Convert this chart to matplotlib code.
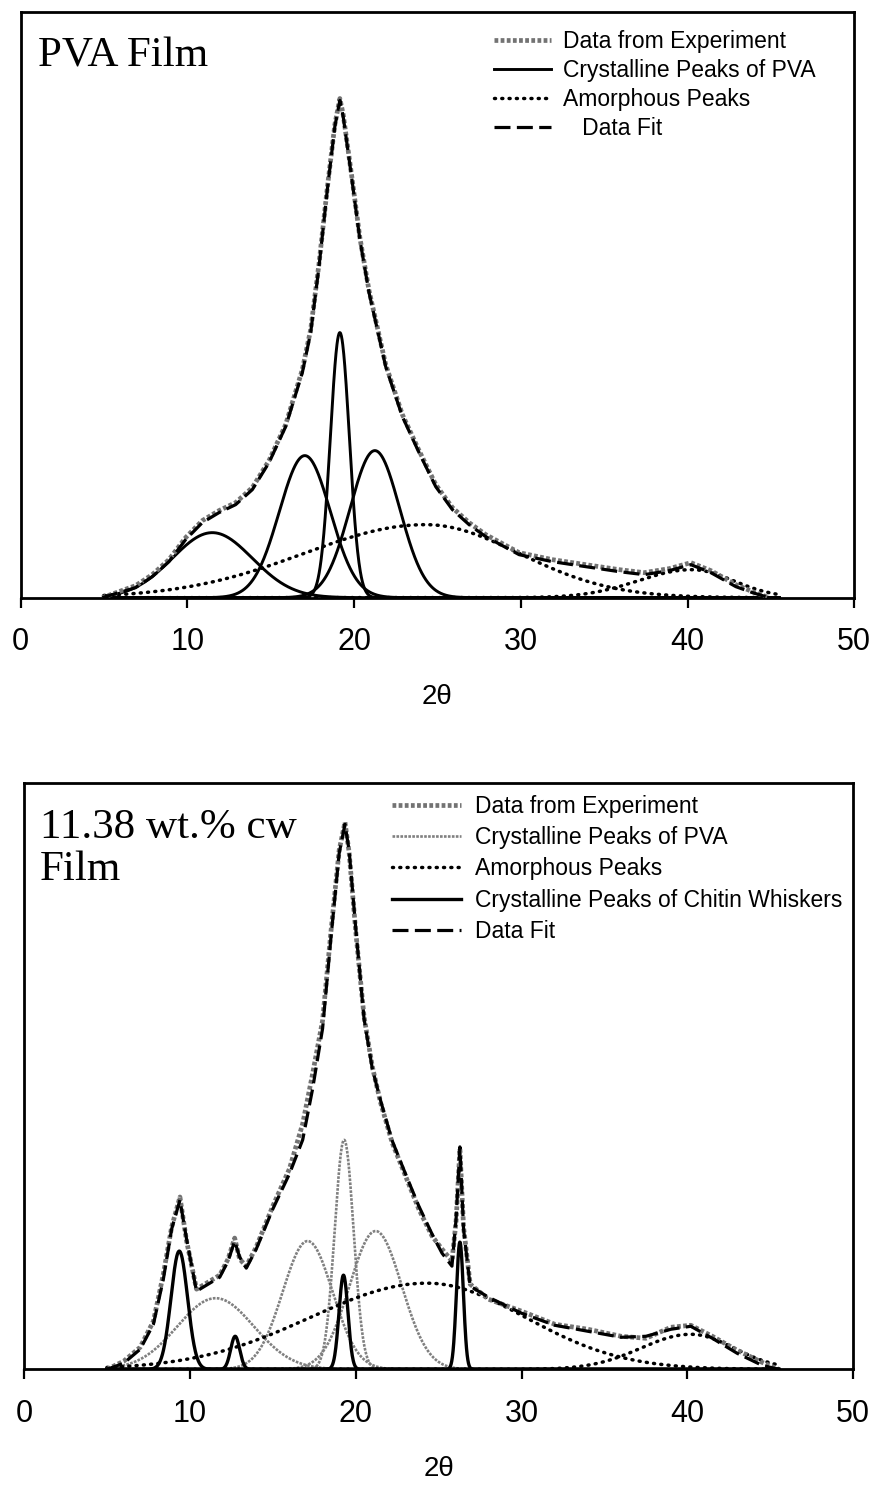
import matplotlib
matplotlib.use("agg")
import matplotlib.pyplot as plt
import numpy as np

plt.rcParams["font.family"] = ["Liberation Sans", "DejaVu Sans"]

# ---------------- PVA film (top panel) ----------------
pva_x = [4.9, 5.9, 6.9, 7.9, 8.9, 9.9, 10.9, 11.9, 12.9, 13.9,
         14.9, 15.9, 16.9, 17.4, 17.9, 18.4, 18.85, 19.15, 19.35, 19.85,
         20.35, 20.9, 21.9, 22.9, 23.9, 24.9, 25.9, 26.9, 27.9, 29.9,
         31.9, 33.9, 35.9, 37.4, 38.9, 40.2, 41.4, 42.9, 43.9, 44.9]
pva_fit = [0, 5, 10, 21, 36, 58, 75, 85, 93, 108,
           135, 171, 225, 265, 331, 408, 471, 497, 481, 421,
           358, 305, 231, 181, 145, 111, 88, 73, 61, 43,
           36, 31, 26, 23, 27, 33, 25, 11, 5, 0]
pva_exp = [0, 6, 12, 23, 38, 60, 77, 87, 95, 110,
           137, 173, 228, 268, 334, 410, 473, 499, 483, 423,
           360, 307, 233, 183, 147, 113, 90, 75, 63, 45,
           38, 33, 28, 25, 29, 35, 27, 13, 6, 0]
pva_cryst_center = [11.5, 17.05, 19.15, 21.25]
pva_cryst_height = [65, 142, 265, 147]
pva_cryst_width = [2.4, 1.53, 0.57, 1.49]
pva_amor_center = [24.3, 40.25]
pva_amor_height = [73, 28]
pva_amor_wleft = [7.3, 3.2]
pva_amor_wright = [5.6, 2.5]

# ---------------- 11.38 wt.% cw film (bottom panel) ----------------
cw_x = [5.0, 6.0, 7.0, 7.8, 8.4, 8.9, 9.4, 9.8, 10.4, 11.0,
        11.8, 12.3, 12.7, 13.0, 13.4, 14.0, 15.0, 16.0, 16.8, 17.4,
        18.0, 18.5, 19.0, 19.35, 19.6, 20.0, 20.5, 21.0, 21.5, 22.2,
        23.0, 23.8, 24.6, 25.2, 25.8, 26.05, 26.28, 26.5, 26.9, 28.0,
        30.0, 32.0, 34.0, 36.0, 37.5, 39.0, 40.2, 41.5, 43.0, 44.5,
        45.5]
cw_fit = [0, 6, 20, 45, 90, 140, 169, 130, 78, 84,
          92, 108, 128, 112, 101, 120, 160, 195, 229, 280,
          340, 430, 515, 544, 518, 440, 350, 300, 268, 228,
          195, 163, 135, 116, 103, 150, 222, 140, 83, 72,
          56, 44, 38, 32, 33, 40, 43, 31, 16, 4,
          0]
cw_exp = [0, 8, 22, 48, 95, 142, 172, 128, 80, 86,
          94, 110, 131, 110, 103, 122, 163, 200, 245, 295,
          348, 436, 518, 546, 516, 437, 352, 302, 266, 226,
          193, 160, 133, 120, 108, 148, 220, 142, 85, 70,
          58, 45, 40, 33, 31, 42, 44, 33, 19, 7,
          0]
cw_pva_center = [11.55, 17.1, 19.3, 21.2]
cw_pva_height = [71, 128, 229, 138]
cw_pva_width = [2.3, 1.5, 0.57, 1.57]
cw_amor_center = [24.3, 40.2]
cw_amor_height = [86, 35]
cw_amor_wleft = [7.0, 3.0]
cw_amor_wright = [5.9, 2.6]
cw_chitin_center = [9.36, 12.73, 19.26, 26.28]
cw_chitin_height = [118, 33, 94, 127]
cw_chitin_width = [0.5, 0.27, 0.27, 0.21]

grid = np.linspace(5, 45.5, 2000)


def peak(x, c, h, wl, wr=None):
    if wr is None:
        wr = wl
    w = np.where(x < c, wl, wr)
    return h * np.exp(-0.5 * ((x - c) / w) ** 2)


def style_axes(ax):
    ax.set_xlim(0, 50)
    ax.set_ylim(0, 585)
    ax.set_xticks([0, 10, 20, 30, 40, 50])
    ax.set_yticks([])
    ax.tick_params(axis="x", direction="out", length=7, width=1.6,
                   labelsize=22, pad=14)
    for s in ax.spines.values():
        s.set_linewidth(2.0)
    ax.set_xlabel("2θ", fontsize=20)
    ax.xaxis.set_label_coords(0.5, -99 / 585)
    ax.xaxis.label.set_va("center")


fig = plt.figure(figsize=(8.77, 14.86), dpi=100)

exp_kw = dict(color="0.45", lw=3.4, ls=(0, (0.8, 0.5)), zorder=3)
fit_kw = dict(color="black", lw=2.3, ls=(0, (5, 2)), zorder=4)
dot_kw = dict(color="black", lw=2.5, ls=(0, (0.3, 1.8)),
              dash_capstyle="round", zorder=2)

# top panel
ax1 = fig.add_axes([0.0234, 0.5978, 0.9507, 0.3938])
ax1.plot(pva_x, pva_exp, label="Data from Experiment", **exp_kw)
for i, (c, h, w) in enumerate(zip(pva_cryst_center, pva_cryst_height, pva_cryst_width)):
    ax1.plot(grid, peak(grid, c, h, w), color="black", lw=2.1, zorder=2,
             label="Crystalline Peaks of PVA" if i == 0 else None)
for i, (c, h, wl, wr) in enumerate(zip(pva_amor_center, pva_amor_height,
                                       pva_amor_wleft, pva_amor_wright)):
    ax1.plot(grid, peak(grid, c, h, wl, wr),
             label="Amorphous Peaks" if i == 0 else None, **dot_kw)
ax1.plot(pva_x, pva_fit, label="   Data Fit", **fit_kw)
style_axes(ax1)
ax1.text(0.021, 0.908, "PVA Film", transform=ax1.transAxes,
         fontsize=31, family="Liberation Serif", va="baseline")
ax1.legend(loc="upper left", bbox_to_anchor=(0.568, 0.97), frameon=False,
           fontsize=16.5, handlelength=2.5, handletextpad=0.5,
           labelspacing=0.26, borderpad=0, borderaxespad=0)

# bottom panel
ax2 = fig.add_axes([0.0274, 0.0785, 0.9456, 0.3945])
ax2.plot(cw_x, cw_exp, label="Data from Experiment", **exp_kw)
for i, (c, h, w) in enumerate(zip(cw_pva_center, cw_pva_height, cw_pva_width)):
    ax2.plot(grid, peak(grid, c, h, w), color="0.5", lw=1.9,
             ls=(0, (1.0, 0.5)), zorder=2,
             label="Crystalline Peaks of PVA" if i == 0 else None)
for i, (c, h, wl, wr) in enumerate(zip(cw_amor_center, cw_amor_height,
                                       cw_amor_wleft, cw_amor_wright)):
    ax2.plot(grid, peak(grid, c, h, wl, wr),
             label="Amorphous Peaks" if i == 0 else None, **dot_kw)
for i, (c, h, w) in enumerate(zip(cw_chitin_center, cw_chitin_height, cw_chitin_width)):
    ax2.plot(grid, peak(grid, c, h, w), color="black", lw=2.4, zorder=3,
             label="Crystalline Peaks of Chitin Whiskers" if i == 0 else None)
ax2.plot(cw_x, cw_fit, label="Data Fit", **fit_kw)
style_axes(ax2)
ax2.text(0.019, 0.906, "11.38 wt.% cw", transform=ax2.transAxes,
         fontsize=31, family="Liberation Serif", va="baseline")
ax2.text(0.019, 0.834, "Film", transform=ax2.transAxes,
         fontsize=31, family="Liberation Serif", va="baseline")
ax2.legend(loc="upper left", bbox_to_anchor=(0.444, 0.98), frameon=False,
           fontsize=16.5, handlelength=3.0, handletextpad=0.6,
           labelspacing=0.36, borderpad=0, borderaxespad=0)

fig.savefig("out.png", dpi=100)
